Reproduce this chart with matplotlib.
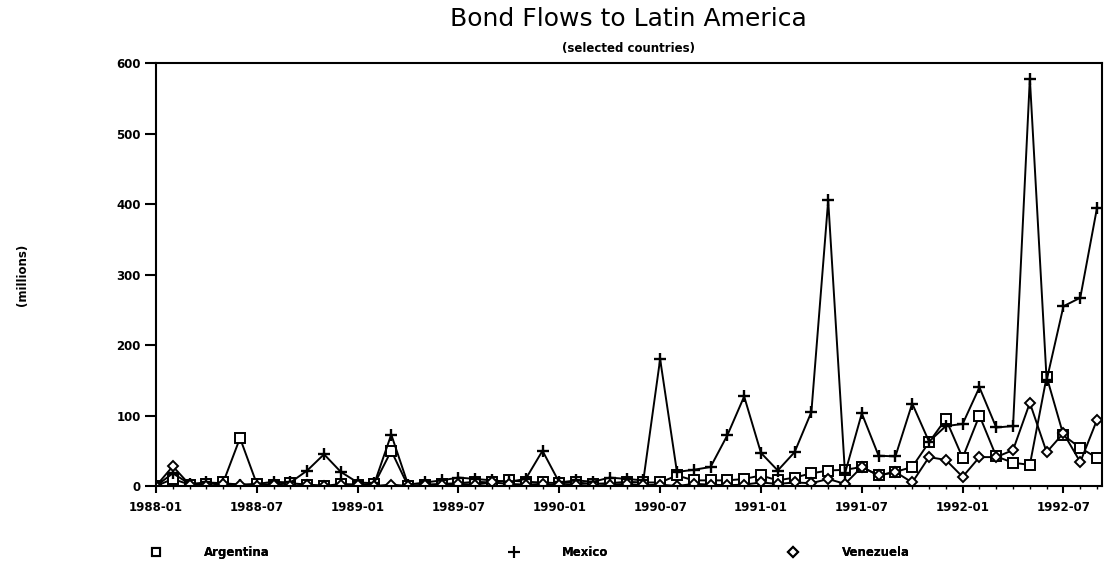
import matplotlib
matplotlib.use("Agg")
import matplotlib.pyplot as plt
from matplotlib.lines import Line2D
from matplotlib.ticker import MultipleLocator

# monthly bond flows, 1988-01 .. 1992-09 (millions)
months = [f"{y}-{m:02d}" for y in range(1988, 1993) for m in range(1, 13)][:57]

argentina = [0, 10, 2, 3, 5, 68, 3, 2, 4, 2, 0, 3,
             2, 3, 50, 0, 2, 3, 4, 6, 5, 8, 6, 5,
             4, 5, 3, 4, 6, 5, 5, 15, 8, 8, 8, 10,
             15, 8, 12, 18, 22, 23, 27, 15, 20, 27, 62, 95,
             40, 100, 42, 33, 30, 155, 72, 54, 40]

mexico = [0, 18, 3, 5, 4, 2, 3, 6, 5, 22, 45, 20,
          5, 4, 73, 2, 5, 8, 12, 10, 8, 6, 10, 50,
          5, 8, 6, 12, 10, 8, 180, 20, 23, 27, 72, 127,
          47, 22, 48, 105, 405, 18, 103, 43, 42, 117, 63, 85,
          88, 140, 83, 85, 578, 150, 255, 267, 395]

venezuela = [0, 28, 2, 0, 3, 2, 0, 2, 0, 2, 0, 1,
             2, 0, 2, 0, 1, 2, 3, 2, 5, 3, 2, 3,
             1, 2, 0, 2, 3, 1, 2, 0, 3, 2, 1, 2,
             5, 3, 5, 4, 10, 3, 27, 15, 20, 5, 41, 37,
             13, 41, 41, 51, 118, 48, 75, 34, 94]

countries = ["Argentina", "Mexico", "Venezuela"]
tick_labels = months[::6]

fig = plt.figure(figsize=(11.11, 5.65), dpi=100)
ax = fig.add_axes([0.1404, 0.1398, 0.8516, 0.7487])

x = list(range(len(months)))
ax.plot(x, argentina, color="black", lw=1.4, marker="s", ms=6.5,
        mfc="white", mec="black", mew=1.4)
ax.plot(x, mexico, color="black", lw=1.4, marker="+", ms=8.5, mew=1.7)
ax.plot(x, venezuela, color="black", lw=1.4, marker="D", ms=5,
        mfc="white", mec="black", mew=1.4)

ax.set_xlim(0, 56.3)
ax.set_ylim(0, 600)
ax.set_xticks(x[::6])
ax.set_xticklabels(tick_labels)
ax.xaxis.set_minor_locator(MultipleLocator(1))
ax.yaxis.set_major_locator(MultipleLocator(100))

for sp in ax.spines.values():
    sp.set_linewidth(1.5)

ax.tick_params(axis="y", direction="out", length=8, width=1.5, pad=3,
               labelsize=8.5)
ax.tick_params(axis="x", which="major", direction="out", length=5, width=1.5,
               pad=6, labelsize=8.5)
ax.tick_params(axis="x", which="minor", direction="out", length=2.5, width=1)
for lab in ax.get_xticklabels() + ax.get_yticklabels():
    lab.set_fontweight("bold")

fig.text(0.566, 0.967, "Bond Flows to Latin America", ha="center",
         va="center", fontsize=18, color="black")
fig.text(0.566, 0.915, "(selected countries)", ha="center", va="center",
         fontsize=8.5, fontweight="bold")
fig.text(0.02, 0.513, "(millions)", ha="center", va="center", rotation=90,
         fontsize=8.5, fontweight="bold")

# legend row: one small legend per country so spacing follows the original
handles = [
    Line2D([], [], ls="none", marker="s", ms=6, mfc="white", mec="black", mew=1.5),
    Line2D([], [], ls="none", marker="+", ms=8, mec="black", mew=1.5),
    Line2D([], [], ls="none", marker="D", ms=5, mfc="white", mec="black", mew=1.5),
]
anchors = [0.1255, 0.4475, 0.699]
for h, name, xa in zip(handles, countries, anchors):
    leg = fig.legend([h], [name], loc="center left",
                     bbox_to_anchor=(xa, 0.022), frameon=False,
                     handlelength=1.0, handletextpad=3.6,
                     prop={"size": 8.5, "weight": "bold"})
    fig.add_artist(leg)

fig.savefig("out.png", dpi=100)
